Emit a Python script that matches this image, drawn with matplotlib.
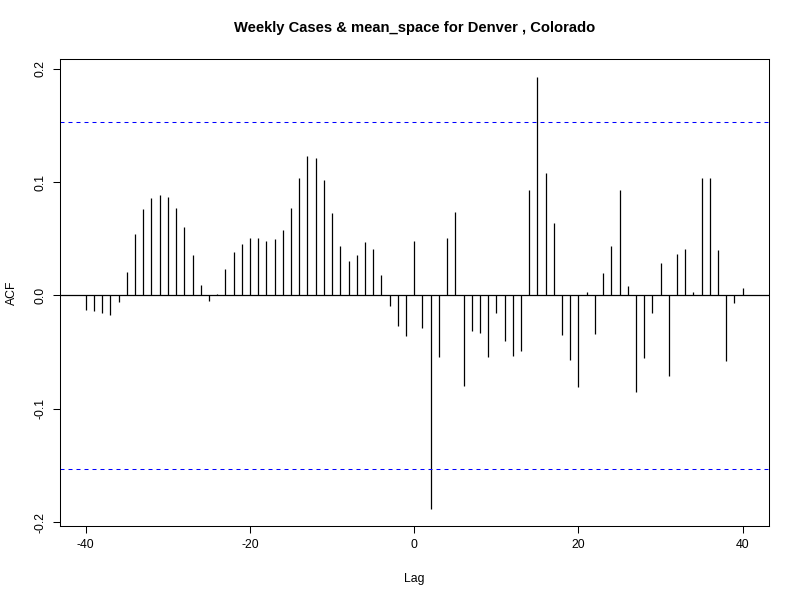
import numpy as np
import matplotlib
matplotlib.use("Agg")
import matplotlib.pyplot as plt

plt.rcParams["font.family"] = ["Liberation Sans", "DejaVu Sans"]
plt.rcParams["axes.unicode_minus"] = False

# ccf degerleri (lag -40 .. 40)
lags = np.arange(-40, 41)
acf = [-0.013, -0.014, -0.015, -0.017, -0.006, 0.021, 0.054, 0.076, 0.086, 0.089,
       0.087, 0.077, 0.060, 0.036, 0.009, -0.005, 0.001, 0.023, 0.038, 0.045,
       0.051, 0.051, 0.048, 0.050, 0.058, 0.077, 0.104, 0.123, 0.121, 0.102,
       0.073, 0.044, 0.030, 0.036, 0.047, 0.041, 0.018, -0.009, -0.027, -0.036,
       0.048,
       -0.029, -0.188, -0.054, 0.051, 0.074, -0.080, -0.031, -0.033, -0.054, -0.015,
       -0.040, -0.053, -0.049, 0.093, 0.193, 0.108, 0.064, -0.035, -0.057, -0.081,
       0.003, -0.034, 0.020, 0.044, 0.093, 0.008, -0.085, -0.055, -0.015, 0.029,
       -0.071, 0.037, 0.041, 0.003, 0.104, 0.104, 0.040, -0.058, -0.007, 0.007]
ci = 0.1527
title = "Weekly Cases & mean_space for Denver , Colorado"

fig = plt.figure(figsize=(8, 6), dpi=100)
ax = fig.add_axes([0.0744, 0.1233, 0.8868, 0.7779])

ax.vlines(lags, 0, acf, color="black", lw=0.9)
ax.axhline(0, color="black", lw=0.9)
ax.axhline(ci, color="blue", lw=0.75, linestyle=(0, (3.84, 3.84)))
ax.axhline(-ci, color="blue", lw=0.75, linestyle=(0, (3.84, 3.84)))

# R tarzi eksen sinirlari (%4 genisletme)
xr = lags.max() - lags.min()
ax.set_xlim(lags.min() - 0.04 * xr, lags.max() + 0.04 * xr)
lo, hi = min(acf), max(acf)
ax.set_ylim(lo - 0.04 * (hi - lo), hi + 0.04 * (hi - lo))

ax.set_xticks([-40, -20, 0, 20, 40])
ax.set_yticks([-0.2, -0.1, 0.0, 0.1, 0.2])
ax.set_yticklabels(["-0.2", "-0.1", "0.0", "0.1", "0.2"], rotation=90, va="center")
ax.tick_params(length=5.2, width=0.75, labelsize=8.8, pad=4, colors="black")
for s in ax.spines.values():
    s.set_linewidth(0.75)

ax.set_title(title, fontsize=10.6, fontweight="bold", pad=20)
ax.set_xlabel("Lag", fontsize=8.8, labelpad=16)
ax.set_ylabel("ACF", fontsize=8.8, labelpad=12)

fig.savefig("out.png", dpi=100)
